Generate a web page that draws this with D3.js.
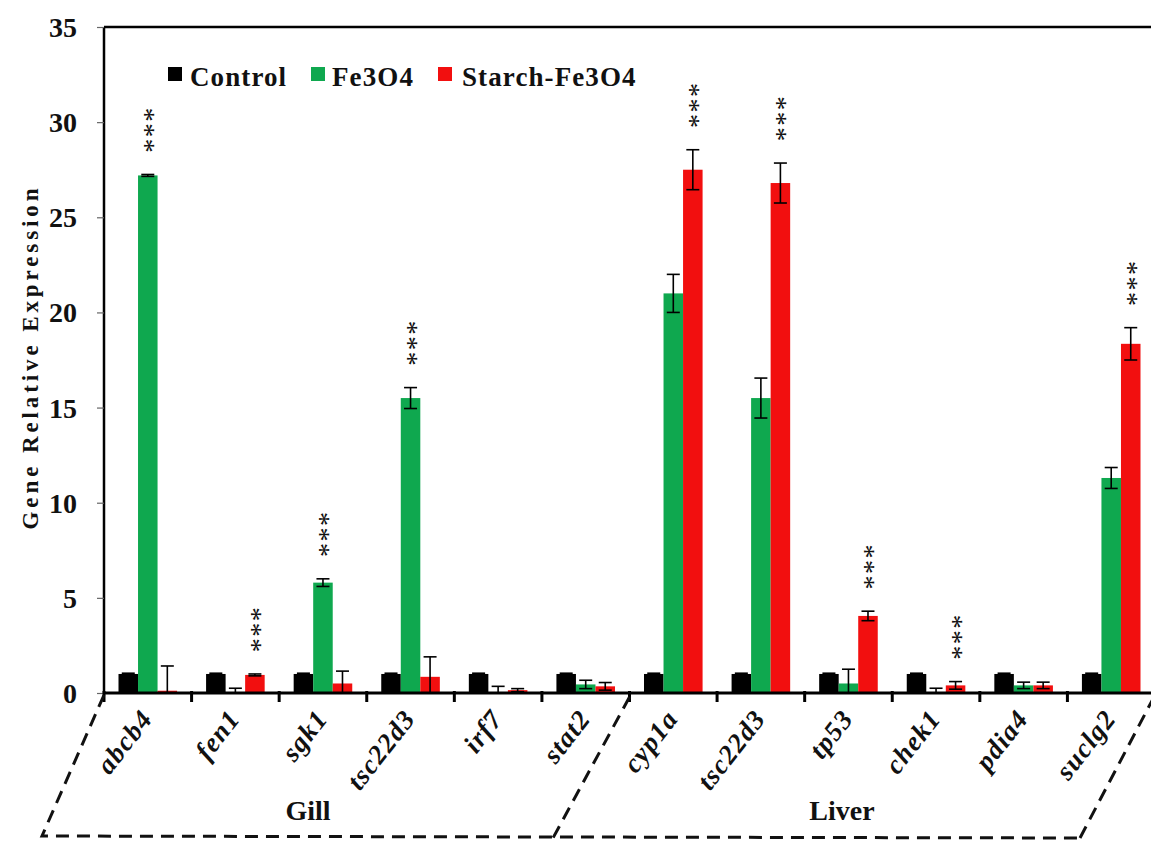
<!DOCTYPE html>
<html>
<head>
<meta charset="utf-8">
<script src="https://cdn.jsdelivr.net/npm/d3@7"></script>
<style>
  html, body { margin: 0; padding: 0; background: #fff; }
  svg { display: block; }
  svg text { font-family: "Liberation Serif", "Times New Roman", serif; }
</style>
</head>
<body>
<svg id="chart" width="1151" height="844"></svg>
<script>
// Gene expression per tissue: Control, Fe3O4 and Starch-Fe3O4 treatments
const genes = ["abcb4", "fen1", "sgk1", "tsc22d3", "irf7", "stat2",
               "cyp1a", "tsc22d3", "tp53", "chek1", "pdia4", "suclg2"];
const seriesNames = ["Control", "Fe3O4", "Starch-Fe3O4"];
const seriesColors = ["#000000", "#0fa84f", "#f20f0f"];

const control     = [1, 1, 1, 1, 1, 1, 1, 1, 1, 1, 1, 1];
const controlErr  = [0.04, 0.04, 0.04, 0.04, 0.04, 0.04, 0.04, 0.04, 0.04, 0.04, 0.04, 0.04];
const fe3o4       = [27.2, 0.05, 5.8, 15.5, 0.05, 0.45, 21.0, 15.5, 0.5, 0.05, 0.4, 11.3];
const fe3o4Err    = [0.05, 0.2, 0.2, 0.55, 0.3, 0.22, 1.0, 1.05, 0.75, 0.2, 0.17, 0.55];
const starch      = [0.12, 0.95, 0.5, 0.85, 0.15, 0.35, 27.5, 26.8, 4.05, 0.4, 0.4, 18.35];
const starchErr   = [1.3, 0.05, 0.65, 1.05, 0.08, 0.2, 1.05, 1.05, 0.25, 0.2, 0.17, 0.85];

// which series carries the *** mark in each gene group (-1 = none)
const significant = [1, 2, 1, 1, -1, -1, 2, 2, 2, 2, -1, 2];

const yTicks = [0, 5, 10, 15, 20, 25, 30, 35];
const tissues = ["Gill", "Liver"];

const values = [control, fe3o4, starch];
const errors = [controlErr, fe3o4Err, starchErr];

const FONT = "'Liberation Serif', 'Times New Roman', serif";
const svg = d3.select("#chart");

const plotLeft = 104, plotRight = 1155, plotTop = 27, plotBottom = 693;

const x0 = d3.scaleBand().domain(d3.range(genes.length)).range([plotLeft, plotRight]).paddingInner(0).paddingOuter(0);
const x1 = d3.scaleBand().domain(d3.range(3)).range([14.5, x0.bandwidth() - 14.5]).padding(0);
const y = d3.scaleLinear().domain([0, 35]).range([plotBottom, plotTop]);

// top frame line
svg.append("line")
  .attr("x1", plotLeft).attr("x2", 1151).attr("y1", y(35)).attr("y2", y(35))
  .attr("stroke", "#000").attr("stroke-width", 2.5);

// bars
const groups = svg.append("g").selectAll("g")
  .data(genes.map((g, i) => i))
  .join("g")
  .attr("transform", i => `translate(${x0(i)},0)`);

groups.selectAll("rect")
  .data(i => values.map((s, k) => ({ k, v: s[i], e: errors[k][i] })))
  .join("rect")
  .attr("x", d => x1(d.k))
  .attr("width", x1.bandwidth())
  .attr("y", d => y(d.v))
  .attr("height", d => y(0) - y(d.v))
  .attr("fill", d => seriesColors[d.k]);

// error bars
const capW = 6.5;
groups.selectAll("g.err")
  .data(i => values.map((s, k) => ({ k, v: s[i], e: errors[k][i] })))
  .join("g")
  .attr("class", "err")
  .each(function (d) {
    const g = d3.select(this);
    const cx = x1(d.k) + x1.bandwidth() / 2;
    const hi = d.v + d.e;
    const lo = Math.max(0, d.v - d.e);
    g.append("line").attr("x1", cx).attr("x2", cx).attr("y1", y(hi)).attr("y2", y(lo))
      .attr("stroke", "#000").attr("stroke-width", 1.6);
    g.append("line").attr("x1", cx - capW).attr("x2", cx + capW).attr("y1", y(hi)).attr("y2", y(hi))
      .attr("stroke", "#000").attr("stroke-width", 1.6);
    if (d.v - d.e > 0) {
      g.append("line").attr("x1", cx - capW).attr("x2", cx + capW).attr("y1", y(lo)).attr("y2", y(lo))
        .attr("stroke", "#000").attr("stroke-width", 1.6);
    }
  });

// significance stars, stacked vertically above the error cap
genes.forEach((g, i) => {
  const k = significant[i];
  if (k < 0) return;
  const cx = x0(i) + x1(k) + x1.bandwidth() / 2;
  const topPx = y(values[k][i] + errors[k][i]);
  svg.append("text")
    .attr("transform", `translate(${cx},${topPx - 45}) rotate(-90)`)
    .attr("text-anchor", "middle")
    .attr("dy", "0.5em")
    .attr("font-family", FONT)
    .attr("font-size", 28)
    .attr("letter-spacing", 1.5)
    .attr("fill", "#111")
    .text("***");
});

// y axis
const yAxis = d3.axisLeft(y).tickValues(yTicks).tickSize(7).tickFormat(d3.format("d"));
const ya = svg.append("g").attr("transform", `translate(${plotLeft},0)`).call(yAxis);
ya.select(".domain").attr("stroke", "#000").attr("stroke-width", 2.5).attr("d", `M0,${y(35)}V${y(0)}`);
ya.selectAll(".tick line").attr("stroke", "#666").attr("stroke-width", 1.2);
ya.selectAll(".tick text")
  .attr("x", -27).attr("dy", "0.34em")
  .attr("font-family", FONT)
  .attr("font-size", 28).attr("font-weight", "bold").attr("fill", "#111");

// x axis with ticks between groups
const xa = svg.append("g").attr("transform", `translate(0,${plotBottom})`);
xa.append("line").attr("x1", plotLeft).attr("x2", 1151).attr("y1", 0).attr("y2", 0)
  .attr("stroke", "#000").attr("stroke-width", 3);
xa.selectAll("line.tk")
  .data(d3.range(genes.length + 1))
  .join("line")
  .attr("class", "tk")
  .attr("x1", i => plotLeft + i * x0.bandwidth()).attr("x2", i => plotLeft + i * x0.bandwidth())
  .attr("y1", -2).attr("y2", 9)
  .attr("stroke", "#000").attr("stroke-width", 3);

// gene labels
svg.append("g").selectAll("text")
  .data(genes.map((g, i) => ({ g, i })))
  .join("text")
  .attr("transform", d => `translate(${x0(d.i) + x0.bandwidth() / 2 + 6},${719}) rotate(-52)`)
  .attr("text-anchor", "end")
  .attr("font-family", FONT)
  .attr("font-size", 27)
  .attr("font-style", "italic")
  .attr("font-weight", "bold")
  .attr("letter-spacing", 1.2)
  .attr("fill", "#111")
  .text(d => d.g);

// y axis title
svg.append("text")
  .attr("transform", `translate(38,357) rotate(-90)`)
  .attr("text-anchor", "middle")
  .attr("font-family", FONT)
  .attr("font-size", 23)
  .attr("font-weight", "bold")
  .attr("letter-spacing", 3.9)
  .attr("fill", "#111")
  .text("Gene Relative Expression");

// legend
const legendItems = [
  { name: seriesNames[0], color: seriesColors[0], sx: 168, tx: 190 },
  { name: seriesNames[1], color: seriesColors[1], sx: 311, tx: 332 },
  { name: seriesNames[2], color: seriesColors[2], sx: 438, tx: 462 }
];
const lg = svg.append("g");
legendItems.forEach(it => {
  lg.append("rect").attr("x", it.sx).attr("y", 67).attr("width", 14).attr("height", 14).attr("fill", it.color);
  lg.append("text").attr("x", it.tx).attr("y", 86)
    .attr("font-family", FONT)
    .attr("font-size", 27).attr("font-weight", "bold").attr("letter-spacing", 1.1)
    .attr("fill", "#111").text(it.name);
});

// dashed tissue brackets
const dash = svg.append("g").attr("fill", "none").attr("stroke", "#111")
  .attr("stroke-width", 3).attr("stroke-dasharray", "13,8");
const split = plotLeft + 6 * x0.bandwidth();
dash.append("path").attr("d", `M${plotLeft},${plotBottom + 2} L42,836 L1080,838`);
dash.append("path").attr("d", `M${split},${plotBottom + 4} L553,838`);
dash.append("path").attr("d", `M1080,838 L1155,${plotBottom + 2}`);

// tissue names
svg.append("text").attr("x", 308).attr("y", 820).attr("text-anchor", "middle")
  .attr("font-family", FONT)
  .attr("font-size", 28).attr("font-weight", "bold").attr("fill", "#111").text(tissues[0]);
svg.append("text").attr("x", 842).attr("y", 820).attr("text-anchor", "middle")
  .attr("font-family", FONT)
  .attr("font-size", 28).attr("font-weight", "bold").attr("fill", "#111").text(tissues[1]);
</script>
</body>
</html>
